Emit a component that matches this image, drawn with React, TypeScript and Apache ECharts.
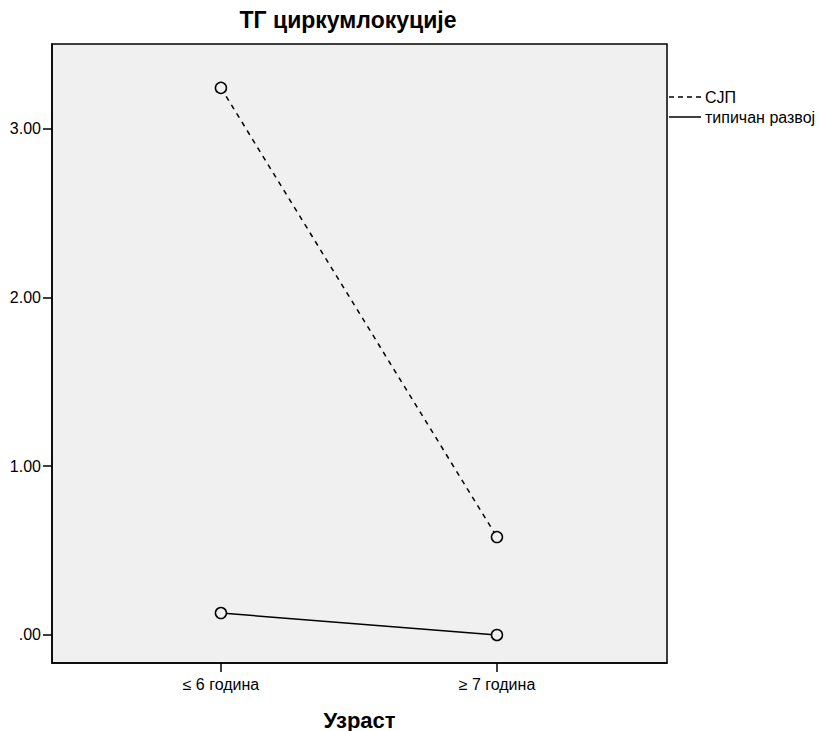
import React, { useEffect, useRef } from "react";
import * as echarts from "echarts";

const categories = ["≤ 6 година", "≥ 7 година"];
const sjpValues = [3.24, 0.58];
const typicalValues = [0.13, 0.0];
const yTicks = [0, 1, 2, 3];
const seriesNames = ["СЈП", "типичан развој"];

const FONT = "Liberation Sans, Arial, sans-serif";

export default function App() {
  const ref = useRef<HTMLDivElement>(null);
  useEffect(() => {
    if (!ref.current) return;
    const chart = echarts.init(ref.current, undefined, { renderer: "svg" });
    const toPts = (vals: number[]) => vals.map((v, i) => [i, v]);
    chart.setOption({
      animation: false,
      backgroundColor: "#ffffff",
      title: {
        text: "ТГ циркумлокуције",
        left: 348,
        textAlign: "center",
        top: 8,
        padding: 0,
        textStyle: { fontFamily: FONT, fontSize: 23, fontWeight: "bold", color: "#000" },
      },
      grid: {
        left: 52,
        top: 44,
        width: 615,
        height: 619,
        show: true,
        outerBoundsMode: "none",
        containLabel: false,
        backgroundColor: "#f0f0f0",
        borderColor: "#000",
        borderWidth: 1.5,
      },
      xAxis: {
        type: "value",
        min: -0.612,
        max: 1.616,
        name: "Узраст",
        nameLocation: "middle",
        nameGap: 46,
        nameTextStyle: { fontFamily: FONT, fontSize: 22, fontWeight: "bold", color: "#000" },
        splitLine: { show: false },
        axisLine: { show: true, onZero: false, lineStyle: { color: "#000", width: 1.5 } },
        axisTick: { show: true, customValues: [0, 1], length: 9, lineStyle: { color: "#000", width: 1.5 } },
        axisLabel: {
          customValues: [0, 1],
          formatter: (v: number) => categories[Math.round(v)] ?? "",
          fontFamily: FONT,
          fontSize: 16,
          color: "#000",
          margin: 13,
        },
      },
      yAxis: {
        type: "value",
        min: -0.166,
        max: 3.5,
        splitLine: { show: false },
        axisLine: { show: true, onZero: false, lineStyle: { color: "#000", width: 1.5 } },
        axisTick: { show: true, customValues: yTicks, length: 9, lineStyle: { color: "#000", width: 1.5 } },
        axisLabel: {
          customValues: yTicks,
          formatter: (v: number) => v.toFixed(2).replace(/^0/, ""),
          fontFamily: FONT,
          fontSize: 16,
          color: "#000",
          margin: 11,
        },
      },
      series: [
        {
          name: seriesNames[0],
          type: "line",
          data: toPts(sjpValues),
          symbol: "circle",
          symbolSize: 11,
          itemStyle: { color: "#f0f0f0", borderColor: "#000", borderWidth: 1.5 },
          lineStyle: { color: "#000", width: 1.5, type: [5, 5] },
          z: 3,
        },
        {
          name: seriesNames[1],
          type: "line",
          data: toPts(typicalValues),
          symbol: "circle",
          symbolSize: 11,
          itemStyle: { color: "#f0f0f0", borderColor: "#000", borderWidth: 1.5 },
          lineStyle: { color: "#000", width: 1.5, type: "solid" },
          z: 3,
        },
      ],
      graphic: [
        {
          type: "line",
          shape: { x1: 669, y1: 97, x2: 701, y2: 97 },
          style: { stroke: "#000", lineWidth: 1.5, lineDash: [5, 4] },
        },
        {
          type: "text",
          x: 705,
          y: 97,
          style: { text: seriesNames[0], fontFamily: FONT, fontSize: 16, fill: "#000", verticalAlign: "middle" },
        },
        {
          type: "line",
          shape: { x1: 669, y1: 117, x2: 701, y2: 117 },
          style: { stroke: "#000", lineWidth: 1.5 },
        },
        {
          type: "text",
          x: 705,
          y: 117,
          style: { text: seriesNames[1], fontFamily: FONT, fontSize: 16, fill: "#000", verticalAlign: "middle" },
        },
      ],
    });
    return () => chart.dispose();
  }, []);
  return (
    <div
      ref={ref}
      style={{ position: "fixed", left: 0, top: 0, width: 820, height: 731 }}
    />
  );
}
